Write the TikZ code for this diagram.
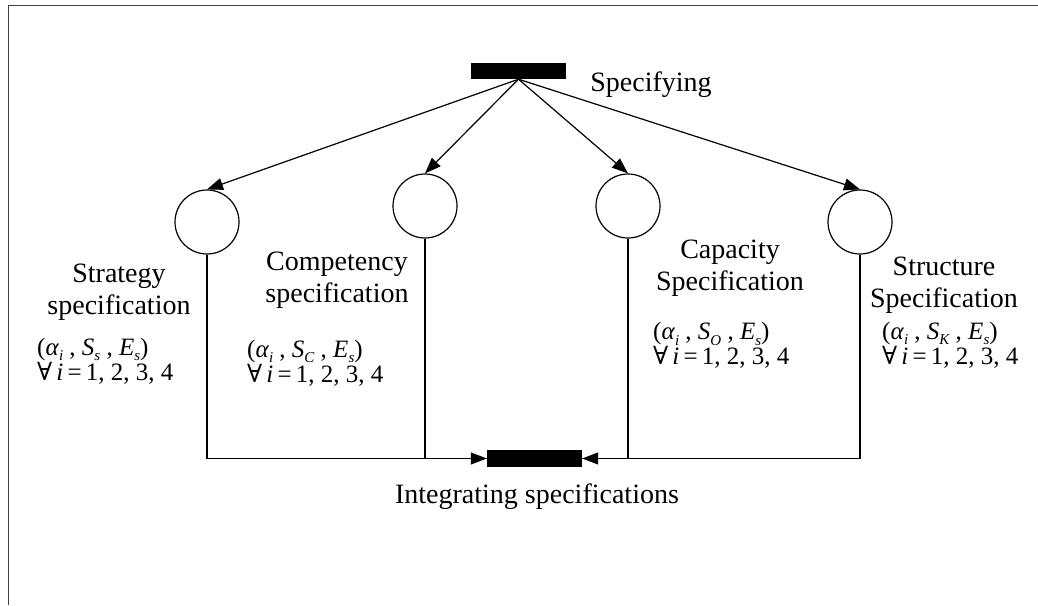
\documentclass[tikz,border=0pt]{standalone}
\usepackage{fontspec}
\setmainfont{Liberation Serif}
\newfontfamily\symfont{DejaVu Serif}
\usetikzlibrary{arrows.meta}
\newcommand\sbx[1]{\raisebox{-0.22em}{\fontsize{15}{15}\selectfont\itshape #1}}
\newcommand\frmtxt[1]{(\textit{α}\sbx{i}\hspace{0.25em}, \textit{S}\sbx{#1}\hspace{0.25em}, \textit{E}\sbx{s})\\{\symfont ∀}\,\textit{i}\,=\,1, 2, 3, 4}
\begin{document}
\begin{tikzpicture}[x=1pt,y=-1pt,
  bar/.style={fill=black,draw=none,minimum width=95pt,minimum height=16pt,inner sep=0pt},
  place/.style={circle,draw,line width=1.2pt,minimum size=64pt,inner sep=0pt},
  lab/.style={font=\fontsize{28}{32}\selectfont,align=center,inner sep=0pt},
  frm/.style={font=\fontsize{25}{17.5}\selectfont,align=left,inner sep=0pt,anchor=west},
  conn/.style={line width=1.2pt},
  arr/.style={line width=1.2pt,-{Triangle[length=16pt,width=12pt]}}]
\useasboundingbox (0,0) rectangle (1038,605);
% frame
\draw[black!75,line width=1.8pt] (8.5,605) -- (8.5,5.5) -- (1038,5.5);
% transitions
\node[bar] (spec) at (518.5,71) {};
\node[bar,minimum height=17pt] (integ) at (534.5,458.5) {};
% places
\node[place] (c1) at (207,222) {};
\node[place] (c2) at (425,206) {};
\node[place] (c3) at (628,206) {};
\node[place] (c4) at (860,222) {};
% arrows from top
\coordinate (apex) at (spec.south);
\foreach \c in {c1,c2,c3,c4} \draw[arr] (apex) -- (\c.north);
% lines to integrating bar
\draw[arr] (c1.south) |- (integ.west);
\draw[conn] (c2.south) |- (integ.west);
\draw[arr] (c4.south) |- (integ.east);
\draw[conn] (c3.south) |- (integ.east);
% labels
\node[lab] (tspec) at (651,85) {Specifying};
\node[lab] (tinteg) at (537,497) {Integrating specifications};
\node[lab] (l1) at (119,292) {Strategy\\specification};
\node[lab] (l2) at (337,280) {Competency\\specification};
\node[lab] (l3) at (730,268) {Capacity\\Specification};
\node[lab] (l4) at (944,285) {Structure\\Specification};
% formulas
\node[frm] (f1) at (37,361) {\frmtxt{s}};
\node[frm] (f2) at (247,363) {\frmtxt{C}};
\node[frm] (f3) at (653,345.5) {\frmtxt{O}};
\node[frm] (f4) at (882,345) {\frmtxt{K}};
\end{tikzpicture}
\end{document}
